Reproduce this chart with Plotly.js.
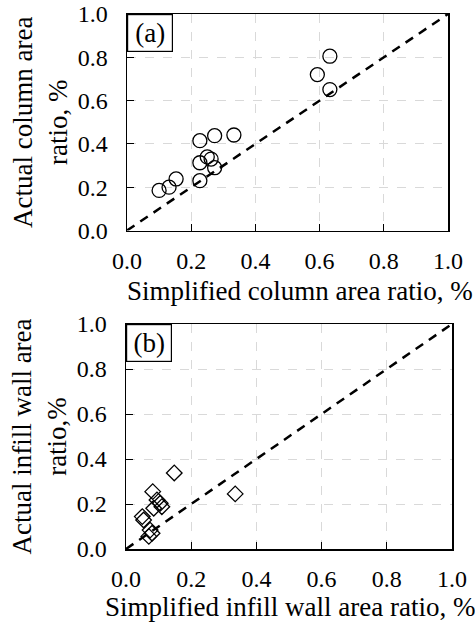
<!DOCTYPE html>
<html>
<head>
<meta charset="utf-8">
<script src="https://cdn.plot.ly/plotly-3.0.1.min.js"></script>
<style>html,body{margin:0;padding:0;background:#fff;}#chart{width:475px;height:627px;}</style>
</head>
<body>
<div id="chart"></div>
<script>
// Panel (a): column area ratio
const colSimplified = [0.10, 0.131, 0.153, 0.227, 0.227, 0.227, 0.250, 0.262, 0.273, 0.273, 0.333, 0.593, 0.632, 0.632];
const colActual     = [0.185, 0.200, 0.238, 0.230, 0.313, 0.415, 0.340, 0.330, 0.290, 0.438, 0.441, 0.720, 0.805, 0.651];
// Panel (b): infill wall area ratio
const wallSimplified = [0.148, 0.335, 0.082, 0.095, 0.105, 0.110, 0.085, 0.050, 0.054, 0.074, 0.080, 0.070];
const wallActual     = [0.338, 0.245, 0.255, 0.218, 0.203, 0.188, 0.181, 0.144, 0.129, 0.084, 0.070, 0.056];
// 1:1 reference line
const refLine = [0, 1];
const tickVals = [0, 0.2, 0.4, 0.6, 0.8, 1.0];
const tickText = ["0.0", "0.2", "0.4", "0.6", "0.8", "1.0"];
const xTitleA = 'Simplified column area ratio, %';
const xTitleB = 'Simplified infill wall area ratio, %';

const FONT = "Liberation Serif";
const TICKFS = 24;
const TITLEFS = 27;

const traces = [
  {x: refLine, y: refLine, xaxis: 'x', yaxis: 'y', mode: 'lines',
   line: {color: '#000', width: 2.5, dash: '9px,7px'}, hoverinfo: 'skip'},
  {x: colSimplified, y: colActual, xaxis: 'x', yaxis: 'y', mode: 'markers',
   marker: {symbol: 'circle-open', size: 14, color: '#000', line: {width: 1.3, color: '#000'}}},
  {x: refLine, y: refLine, xaxis: 'x2', yaxis: 'y2', mode: 'lines',
   line: {color: '#000', width: 2.5, dash: '9px,7px'}, hoverinfo: 'skip'},
  {x: wallSimplified, y: wallActual, xaxis: 'x2', yaxis: 'y2', mode: 'markers',
   marker: {symbol: 'diamond-open', size: 12, color: '#000', line: {width: 1.3, color: '#000'}}}
];

function ax(extra) {
  return Object.assign({
    range: [0, 1], tickvals: tickVals, ticktext: tickText,
    showline: true, linecolor: '#000', linewidth: 1.5, mirror: true,
    ticks: 'inside', ticklen: 7, tickcolor: '#000', tickwidth: 1,
    showgrid: true, gridcolor: '#d9d9d9', griddash: 'dash', gridwidth: 1,
    zeroline: false, tickfont: {family: FONT, size: TICKFS, color: '#000'},
    fixedrange: true
  }, extra);
}

const titleFont = {family: FONT, size: TITLEFS, color: '#000'};

const layout = {
  width: 475, height: 627,
  margin: {l: 0, r: 0, t: 0, b: 0},
  paper_bgcolor: '#fff', plot_bgcolor: '#fff',
  showlegend: false,
  font: {family: FONT, color: '#000'},
  xaxis: ax({domain: [127/475, 448/475], anchor: 'y', ticklabelstandoff: 8}),
  yaxis: ax({domain: [1 - 230.5/627, 1 - 14/627], anchor: 'x', ticklabelstandoff: 13,
    title: {text: 'Actual column area<br>ratio, %', font: titleFont, standoff: 2}}),
  xaxis2: ax({domain: [126/475, 452/475], anchor: 'y2', ticklabelstandoff: 8}),
  yaxis2: ax({domain: [1 - 549/627, 1 - 324/627], anchor: 'x2', ticklabelstandoff: 13,
    title: {text: 'Actual infill wall area<br>ratio,%', font: titleFont, standoff: 2}}),
  annotations: [
    {text: '(a)', xref: 'x domain', yref: 'y domain', x: 0, y: 1, xanchor: 'left', yanchor: 'top',
     showarrow: false, font: titleFont, bgcolor: '#fff', width: 44, height: 36,
     bordercolor: '#000', borderwidth: 1.2, borderpad: 0},
    {text: '(b)', xref: 'x2 domain', yref: 'y2 domain', x: 0, y: 1, xanchor: 'left', yanchor: 'top',
     showarrow: false, font: titleFont, bgcolor: '#fff', width: 44, height: 36,
     bordercolor: '#000', borderwidth: 1.2, borderpad: 0},
    {text: xTitleA, xref: 'paper', yref: 'paper', x: 300/475, y: 1 - 291/627,
     xanchor: 'center', yanchor: 'middle', showarrow: false, font: titleFont},
    {text: xTitleB, xref: 'paper', yref: 'paper', x: 290/475, y: 1 - 607/627,
     xanchor: 'center', yanchor: 'middle', showarrow: false, font: titleFont}
  ]
};

Plotly.newPlot('chart', traces, layout, {staticPlot: true, displayModeBar: false});
</script>
</body>
</html>
